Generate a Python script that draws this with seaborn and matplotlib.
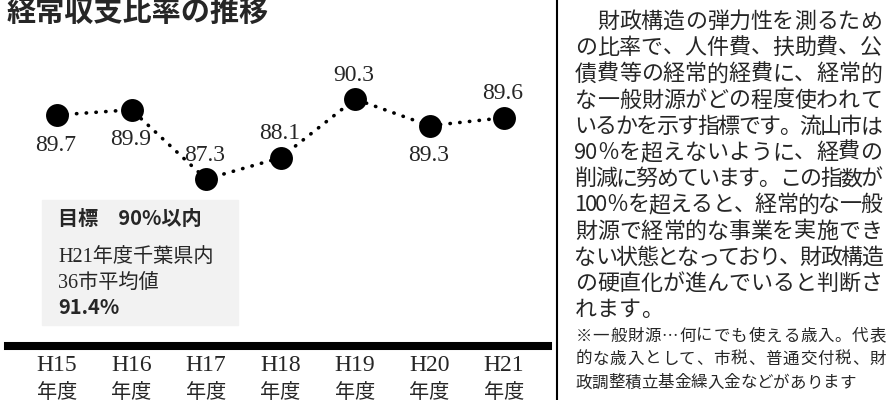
import matplotlib
matplotlib.use("Agg")
import matplotlib.pyplot as plt
import matplotlib.patches as patches
from matplotlib.lines import Line2D
import seaborn as sns
import pandas as pd

# データ
nendo = ['H15', 'H16', 'H17', 'H18', 'H19', 'H20', 'H21']
hiritsu = [89.7, 89.9, 87.3, 88.1, 90.3, 89.3, 89.6]
# ラベルを点の上(1)か下(-1)に置く
label_side = [-1, -1, 1, 1, 1, -1, 1]

title = '経常収支比率の推移'
box_lines = ['目標　90%以内', 'H21年度千葉県内', '36市平均値', '91.4%']

body = [
    '　財政構造の弾力性を測るため',
    'の比率で、人件費、扶助費、公',
    '債費等の経常的経費に、経常的',
    'な一般財源がどの程度使われて',
    'いるかを示す指標です。流山市は',
    '90％を超えないように、経費の',
    '削減に努めています。この指数が',
    '100％を超えると、経常的な一般',
    '財源で経常的な事業を実施でき',
    'ない状態となっており、財政構造',
    'の硬直化が進んでいると判断さ',
    'れます。',
]
notes = [
    '※一般財源…何にでも使える歳入。代表',
    '的な歳入として、市税、普通交付税、財',
    '政調整積立基金繰入金などがあります',
]

df = pd.DataFrame({'nendo': nendo, 'hiritsu': hiritsu})
df['x'] = range(len(df))

sns.set_theme(style='white')
plt.rcParams['font.family'] = ['Noto Sans CJK JP', 'DejaVu Sans']
SERIF = ['Liberation Serif', 'Noto Sans CJK JP']
W, H = 892, 400


def px(x):
    return x / W


def py(y):
    return 1 - y / H


fig = plt.figure(figsize=(8.92, 4.0), dpi=100)
ax = fig.add_axes([px(8), py(346), px(540), (346 - 50) / H])
ax.set_facecolor('none')

# 目標ボックス
fig.add_artist(patches.Rectangle((px(42), py(325)), px(196), 125 / H,
                                 transform=fig.transFigure, color='#f2f2f2', zorder=0))

sns.lineplot(data=df, x='x', y='hiritsu', ax=ax, color='black', marker='o',
             markersize=16.5, markeredgecolor='black', markeredgewidth=0,
             linewidth=2.6, linestyle=(0, (0.1, 2.6)))
ax.lines[0].set_dash_capstyle('round')

for x, v, s in zip(df['x'], hiritsu, label_side):
    off = 24 if s > 0 else -30
    ax.annotate(f'{v:.1f}', (x, v), xytext=(-1, off), textcoords='offset pixels',
                ha='center', va='center', fontsize=17, family=SERIF)

ax.set_xlim(-0.658, 6.59)
ax.set_ylim(81.04, 92.14)
ax.set_xticks(df['x'])
ax.set_xticklabels(nendo, family=SERIF, fontsize=17)
ax.tick_params(axis='x', length=0, pad=6.5)
for x in df['x']:
    ax.annotate('年度', (x, 0), xycoords=('data', 'axes fraction'), xytext=(0, -46),
                textcoords='offset pixels', ha='center', va='center', fontsize=14.5,
                annotation_clip=False)
ax.set_yticks([])
ax.set_xlabel('')
ax.set_ylabel('')
for sp in ['left', 'top', 'right']:
    ax.spines[sp].set_visible(False)
ax.spines['bottom'].set_linewidth(5.8)
ax.spines['bottom'].set_color('black')

# タイトル
fig.text(px(7), py(12), title, ha='left', va='center', fontsize=21, fontweight='bold')

# ボックス内の文字
fig.text(px(58), py(218), box_lines[0], ha='left', va='center', fontsize=14.5, fontweight='bold')
fig.text(px(58), py(258), box_lines[1], ha='left', va='center', fontsize=14.5, family=SERIF)
fig.text(px(58), py(283), box_lines[2], ha='left', va='center', fontsize=14.5, family=SERIF)
fig.text(px(58), py(308), box_lines[3], ha='left', va='center', fontsize=14.5, fontweight='bold')

# 区切り線
fig.add_artist(Line2D([px(557), px(557)], [0, 1], transform=fig.transFigure,
                      color='black', linewidth=1.5))


def draw_line(text, x0, x1, y, em, justify=True):
    ws = [0.5 if ord(c) < 128 else 1.0 for c in text]
    cell = (x1 - x0) / sum(ws) if justify else em
    pos = x0
    for c, w in zip(text, ws):
        fig.text(px(pos + w * cell / 2), py(y), c, ha='center', va='center',
                 fontsize=em * 72 / 100)
        pos += w * cell


for i, line in enumerate(body):
    draw_line(line, 575, 882, 22 + i * 26.2, 22, justify=(i < len(body) - 1))

for i, line in enumerate(notes):
    draw_line(line, 575, 886, 336 + i * 23.5, 16.5, justify=(i < len(notes) - 1))

fig.savefig('out.png', dpi=100)
